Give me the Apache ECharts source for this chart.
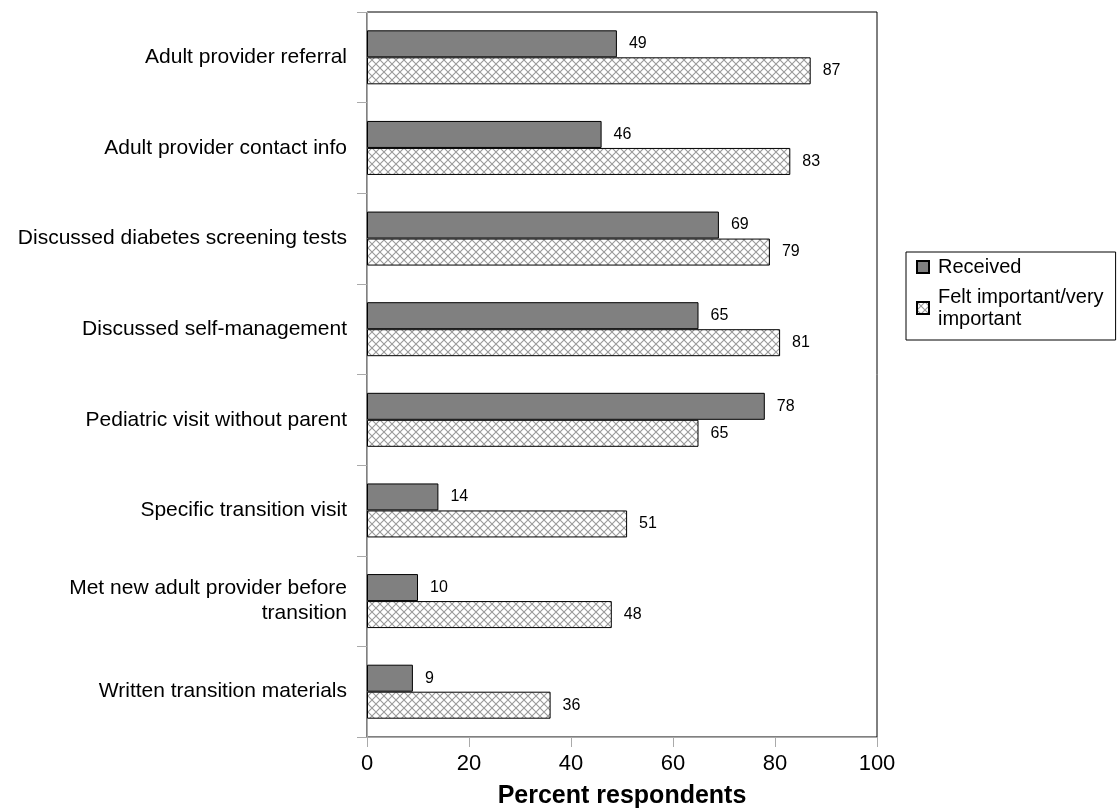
<!DOCTYPE html>
<html><head><meta charset="utf-8">
<script src="https://cdn.jsdelivr.net/npm/echarts@6/dist/echarts.min.js"></script>
<style>html,body{margin:0;padding:0;background:#fff}#c{width:1120px;height:810px}</style>
</head><body><div id="c"></div>
<script>
const categories = ["Adult provider referral","Adult provider contact info","Discussed diabetes screening tests","Discussed self-management","Pediatric visit without parent","Specific transition visit","Met new adult provider before\ntransition","Written transition materials"];
const received = [49,46,69,65,78,14,10,9];
const feltImportant = [87,83,79,81,65,51,48,36];
const xTicks = [0,20,40,60,80,100];

function hatch(){
  const s = 8, c = document.createElement('canvas');
  c.width = s; c.height = s;
  const g = c.getContext('2d');
  g.fillStyle = '#fff'; g.fillRect(0,0,s,s);
  g.strokeStyle = '#9a9a9a'; g.lineWidth = 1.1;
  g.beginPath();
  g.moveTo(0,0); g.lineTo(s,s);
  g.moveTo(0,s); g.lineTo(s,0);
  g.stroke();
  return c;
}
const chart = echarts.init(document.getElementById('c'));
const font = '"Liberation Sans", Arial, sans-serif';
chart.setOption({
  animation:false,
  textStyle:{fontFamily:font},
  grid:{left:367,right:243,top:12,bottom:73,show:true,borderColor:'#000',borderWidth:1,backgroundColor:'#fff',
        outerBoundsMode:'none', containLabel:false},
  legend:{
    orient:'vertical', left:906, top:252,
    borderColor:'#000', borderWidth:1, padding:[4,12,10,10],
    itemWidth:12, itemHeight:12, itemGap:8, icon:'rect',
    textStyle:{fontSize:20, color:'#000', fontFamily:font, lineHeight:22, padding:[0,0,0,4]},
    formatter: n => n === 'Felt important/very important' ? 'Felt important/very\nimportant' : n,
    data:['Received','Felt important/very important']
  },
  xAxis:{type:'value', min:0, max:100, interval:20,
    axisLine:{show:true, lineStyle:{color:'#aaa'}},
    axisTick:{show:true, length:10, lineStyle:{color:'#aaa'}},
    splitLine:{show:false},
    axisLabel:{fontSize:22, color:'#000', margin:16, customValues: xTicks},
    name:'Percent respondents', nameLocation:'middle', nameGap:47,
    nameTextStyle:{fontSize:25, fontWeight:'bold', color:'#000', fontFamily:font}
  },
  yAxis:{type:'category', inverse:true, data:categories,
    axisLine:{show:true, lineStyle:{color:'#aaa'}},
    axisTick:{show:true, length:10, lineStyle:{color:'#aaa'}},
    axisLabel:{fontSize:21, color:'#000', margin:20, lineHeight:25, align:'right'}
  },
  series:[
    {name:'Received', type:'bar', data:received, barWidth:27, barGap:'0%',
     itemStyle:{color:'#808080', borderColor:'#000', borderWidth:1},
     label:{show:true, position:'right', distance:12, fontSize:16, color:'#000'}},
    {name:'Felt important/very important', type:'bar', data:feltImportant, barWidth:27, barGap:'0%',
     itemStyle:{color:{image:hatch(), repeat:'repeat'}, borderColor:'#000', borderWidth:1},
     label:{show:true, position:'right', distance:12, fontSize:16, color:'#000'}}
  ]
});
</script></body></html>
